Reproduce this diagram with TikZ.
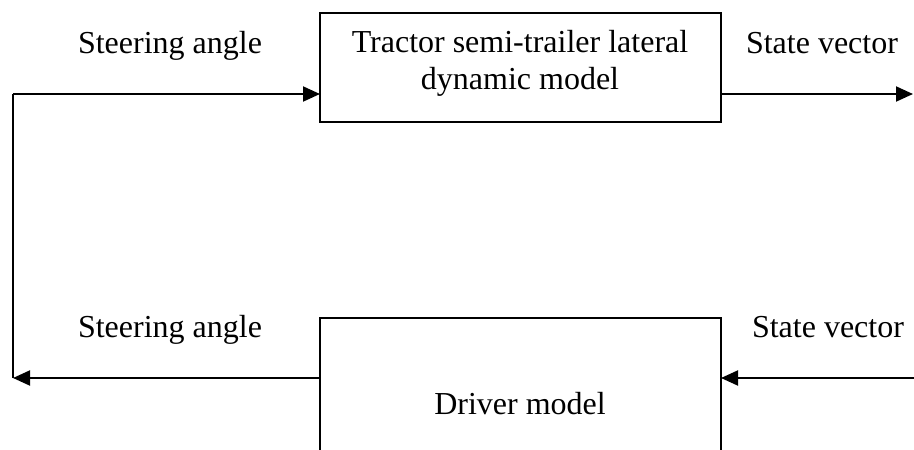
\documentclass[tikz,border=0pt]{standalone}
\usepackage{fontspec}
\setmainfont{Liberation Serif}
\usetikzlibrary{arrows.meta}
\begin{document}
\begin{tikzpicture}[x=1pt,y=-1pt,
  wire/.style={line width=2pt},
  flow/.style={wire,-{Triangle[length=17pt,width=15pt]}},
  lbl/.style={font=\fontsize{32}{38}\selectfont,anchor=base,inner sep=0pt},
  blockbox/.style={draw,line width=2pt,minimum width=401pt,minimum height=109pt,inner sep=0pt}]
\useasboundingbox (0,0) rectangle (914,450);

% plant block
\node[blockbox] (plant) at (520.5,67.5) {};
\node[lbl] (plantA) at (520,52) {Tractor semi-trailer lateral};
\node[lbl] (plantB) at (520,89) {dynamic model};

% driver block, open at the lower edge
\coordinate (drvTL) at (320,318);
\coordinate (drvTR) at (721,318);
\coordinate (drvBL) at (320,450);
\coordinate (drvBR) at (721,450);
\draw[wire] (drvBL) -- (drvTL) -- (drvTR) -- (drvBR);
\node[lbl] (drvtext) at (520,414) {Driver model};

% connector points
\coordinate (inTop) at (320,94);
\coordinate (outTop) at (721,94);
\coordinate (endTop) at (913,94);
\coordinate (inBot) at (721,378);
\coordinate (startBot) at (914,378);
\coordinate (outBot) at (320,378);
\coordinate (cornerTop) at (13,94);
\coordinate (endBot) at (13,378);

% feedback loop
\draw[wire] (cornerTop) -- (endBot);
\draw[flow] (cornerTop) -- (inTop);
\draw[flow] (outTop) -- (endTop);
\draw[flow] (startBot) -- (inBot);
\draw[flow] (outBot) -- (endBot);

% signal labels
\node[lbl] (sa1) at (170,53) {Steering angle};
\node[lbl] (sv1) at (822,53) {State vector};
\node[lbl] (sa2) at (170,337) {Steering angle};
\node[lbl] (sv2) at (828,337) {State vector};
\end{tikzpicture}
\end{document}
